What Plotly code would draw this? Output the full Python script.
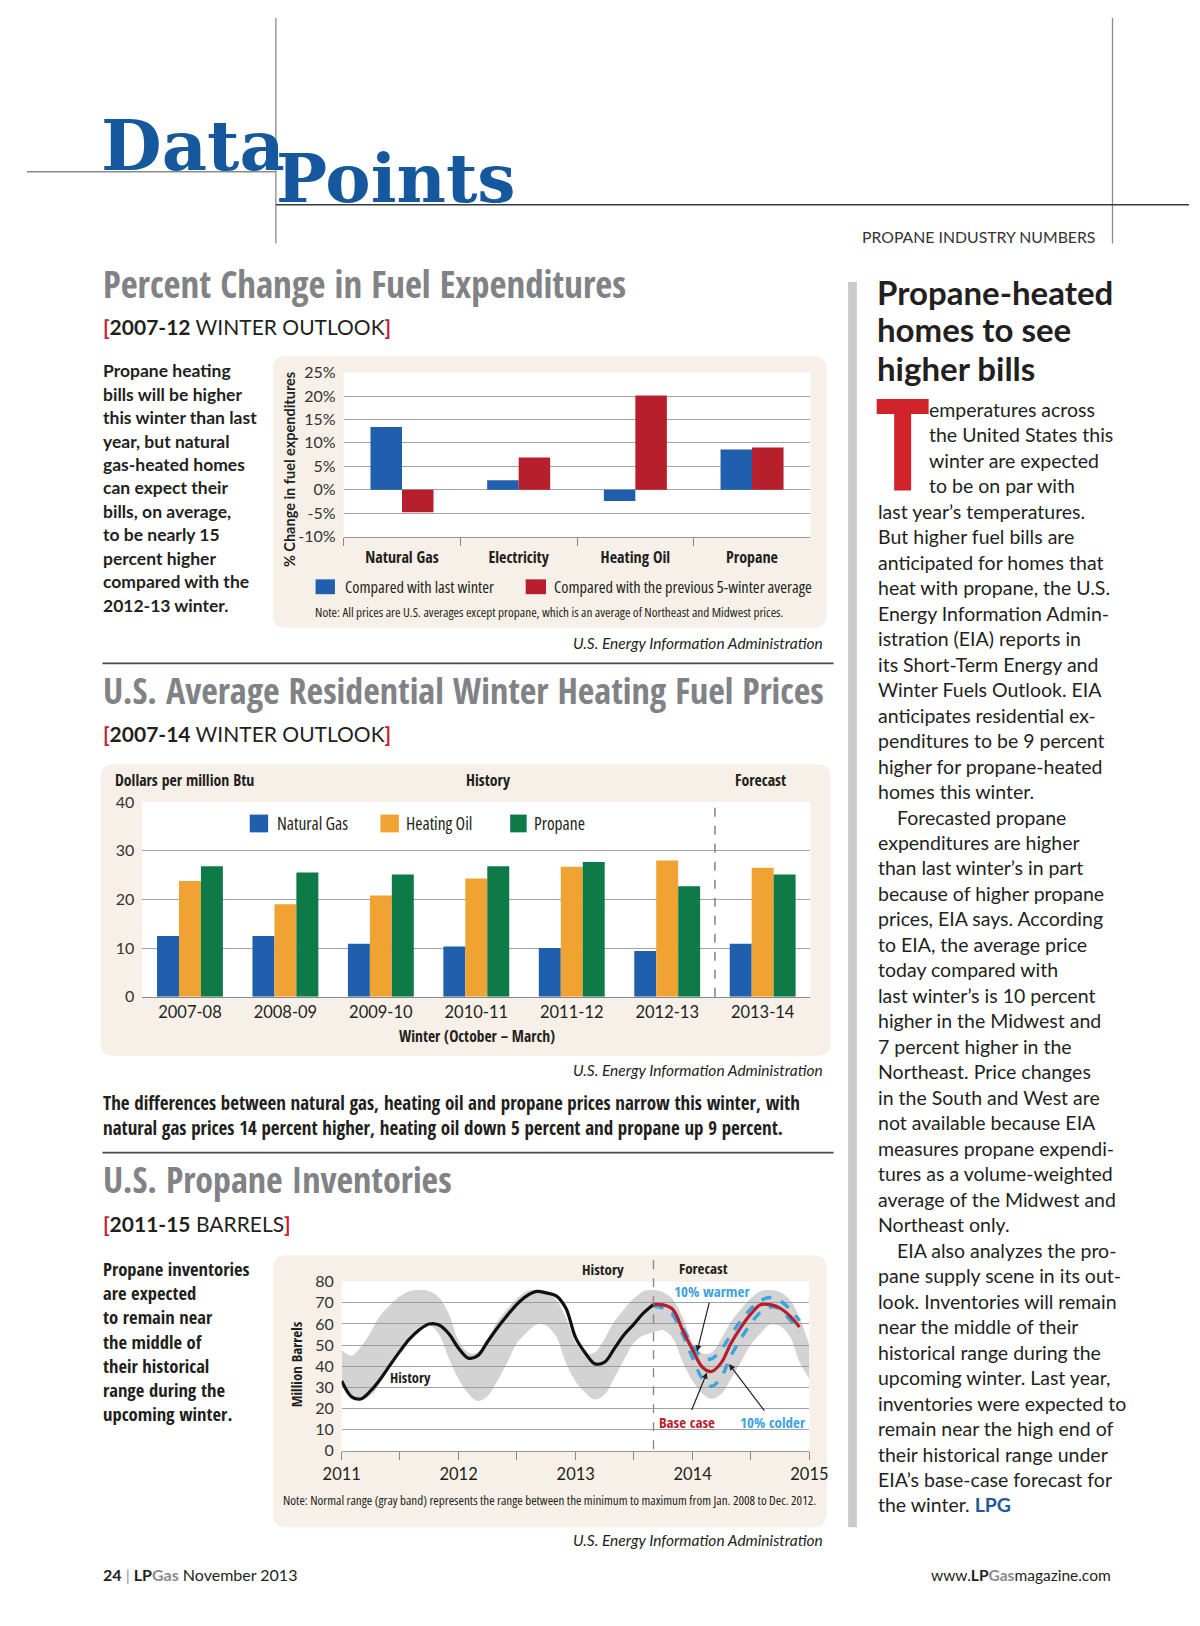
import plotly.graph_objects as go

W, H = 1200, 1626

# ---------------- DATA ----------------
fuels = ["Natural Gas", "Electricity", "Heating Oil", "Propane"]
chg_last_winter = [13.4, 2.0, -2.4, 8.6]
chg_5yr_avg = [-4.8, 6.9, 20.1, 9.0]
pct_ticks = [-10, -5, 0, 5, 10, 15, 20, 25]
pct_labels = ["-10%", "-5%", "0%", "5%", "10%", "15%", "20%", "25%"]

winters = ["2007-08", "2008-09", "2009-10", "2010-11", "2011-12", "2012-13", "2013-14"]
price_natgas = [12.5, 12.5, 10.9, 10.3, 10.0, 9.4, 10.9]
price_heatoil = [23.8, 19.0, 20.8, 24.3, 26.7, 28.0, 26.5]
price_propane = [26.8, 25.5, 25.1, 26.8, 27.7, 22.7, 25.1]

hist_months = [f"{y}-{m:02d}-01" for y in (2011, 2012, 2013) for m in range(1, 13)][:33]
hist_values = [33.0, 25.5, 24.5, 28.3, 33.8, 40.5, 46.9, 52.9, 57.3, 60.0, 59.5, 55.5,
               48.5, 43.8, 45.0, 51.7, 58.1, 64.0, 69.3, 73.3, 75.4, 74.7, 73.3, 67.5,
               53.4, 46.0, 41.2, 41.9, 48.2, 54.9, 59.8, 65.2, 69.2]
fc_months = ["2013-09-01", "2013-10-01", "2013-11-01", "2013-12-01"] + \
            [f"2014-{m:02d}-01" for m in range(1, 13)]
fc_base = [69.2, 69.0, 66.8, 57.0, 47.8, 39.5, 37.5, 41.7, 50.9, 58.4, 64.5, 69.1, 69.1, 67.5, 63.8, 58.5]
fc_warmer = [69.2, 68.5, 65.5, 58.0, 50.0, 44.0, 43.5, 48.0, 55.0, 61.5, 67.0, 71.0, 72.5, 71.0, 67.0, 61.5]
fc_colder = [68.5, 67.5, 64.0, 55.0, 44.0, 34.0, 30.5, 35.0, 45.0, 53.0, 60.0, 65.5, 68.0, 67.0, 62.0, 56.5]
band_months = [f"{y}-{m:02d}-01" for y in (2011, 2012, 2013, 2014) for m in range(1, 13)] + ["2015-01-01"]
band_upper = [47.5, 45.0, 49.0, 56.0, 64.0, 69.0, 73.0, 75.5, 76.0, 75.5, 72.5, 65.0,
              52.0, 46.5, 46.5, 53.0, 61.0, 67.0, 72.0, 75.5, 76.0, 75.0, 71.5, 63.0,
              51.0, 46.0, 46.5, 53.0, 61.0, 67.0, 72.0, 75.5, 76.0, 75.0, 71.5, 63.0,
              51.0, 46.0, 46.5, 53.0, 61.0, 67.0, 72.0, 75.5, 76.0, 75.0, 71.5, 63.0, 50.0]
band_lower = [33.0, 26.5, 24.0, 26.0, 32.0, 40.0, 48.0, 54.0, 58.5, 59.5, 55.0, 44.0,
              34.0, 27.0, 23.5, 26.0, 33.0, 41.7, 50.9, 56.0, 59.7, 59.2, 54.0, 41.7,
              32.6, 27.3, 24.3, 26.6, 34.2, 43.0, 51.0, 54.6, 56.0, 57.0, 53.0, 42.0,
              33.0, 27.0, 24.6, 27.0, 34.0, 42.0, 50.0, 55.5, 59.7, 59.0, 54.0, 42.0, 34.0]
year_ticks = ["2011-01-01", "2011-07-01", "2012-01-01", "2012-07-01", "2013-01-01",
              "2013-07-01", "2014-01-01", "2014-07-01", "2015-01-01"]
year_labels = ["2011", "", "2012", "", "2013", "", "2014", "", "2015"]

body_lines = [
    "emperatures across", "the United States this", "winter are expected", "to be on par with",
    "last year’s temperatures.", "But higher fuel bills are", "anticipated for homes that",
    "heat with propane, the U.S.", "Energy Information Admin-", "istration (EIA) reports in",
    "its Short-Term Energy and", "Winter Fuels Outlook. EIA", "anticipates residential ex-",
    "penditures to be 9 percent", "higher for propane-heated", "homes this winter.",
    "Forecasted propane", "expenditures are higher", "than last winter’s in part",
    "because of higher propane", "prices, EIA says. According", "to EIA, the average price",
    "today compared with", "last winter’s is 10 percent", "higher in the Midwest and",
    "7 percent higher in the", "Northeast. Price changes", "in the South and West are",
    "not available because EIA", "measures propane expendi-", "tures as a volume-weighted",
    "average of the Midwest and", "Northeast only.", "EIA also analyzes the pro-",
    "pane supply scene in its out-", "look. Inventories will remain", "near the middle of their",
    "historical range during the", "upcoming winter. Last year,", "inventories were expected to",
    "remain near the high end of", "their historical range under", "EIA’s base-case forecast for",
    "the winter. <span style='color:#1d5a9e'><b>LPG</b></span>",
]
caption1 = ["Propane heating", "bills will be higher", "this winter than last", "year, but natural",
            "gas-heated homes", "can expect their", "bills, on average,", "to be nearly 15",
            "percent higher", "compared with the", "2012-13 winter."]
caption2 = ["The differences between natural gas, heating oil and propane prices narrow this winter, with",
            "natural gas prices 14 percent higher, heating oil down 5 percent and propane up 9 percent."]
caption3 = ["Propane inventories", "are expected", "to remain near", "the middle of",
            "their historical", "range during the", "upcoming winter."]

# ---------------- STYLE ----------------
COND = "Open Sans Condensed, Liberation Sans, sans-serif"
OPEN = "Open Sans, Liberation Sans, sans-serif"
SANS = "Lato, Open Sans, sans-serif"
SERIF = "DejaVu Serif, serif"
BLUE = "#1f5fae"
RED = "#b71f2d"
ORANGE = "#f0a232"
GREEN = "#0e7a47"
LBLUE = "#3ea2dc"
GRAYT = "#808285"
BRED = "#c8202f"
INK = "#231f20"
GRID = "#a3a3a3"


def px(x):
    return x / W


def py(y):
    return 1 - y / H


annotations = []
shapes = []


def txt(x, y, text, size, family=SANS, color=INK, xanchor="left", yanchor="middle", angle=0):
    annotations.append(dict(x=px(x), y=py(y), xref="paper", yref="paper", text=text,
                            showarrow=False, xanchor=xanchor, yanchor=yanchor, textangle=angle,
                            align="left" if xanchor == "left" else "center",
                            font=dict(size=size, family=family, color=color)))


def cond(s):
    return f"<span style='font-stretch:condensed'>{s}</span>"


def line(x0, y0, x1, y1, color="#555", width=1.5, dash="solid"):
    shapes.append(dict(type="line", xref="paper", yref="paper", x0=px(x0), y0=py(y0),
                       x1=px(x1), y1=py(y1), line=dict(color=color, width=width, dash=dash)))


def rect(x0, y0, x1, y1, color, layer="below"):
    shapes.append(dict(type="rect", xref="paper", yref="paper", x0=px(x0), y0=py(y0),
                       x1=px(x1), y1=py(y1), fillcolor=color, line=dict(width=0), layer=layer))


def rrect(x0, y0, x1, y1, r, color):
    rx, ry = r / W, r / H
    X0, X1, Y0, Y1 = px(x0), px(x1), py(y0), py(y1)
    p = (f"M{X0+rx},{Y0} L{X1-rx},{Y0} Q{X1},{Y0} {X1},{Y0-ry} L{X1},{Y1+ry} "
         f"Q{X1},{Y1} {X1-rx},{Y1} L{X0+rx},{Y1} Q{X0},{Y1} {X0},{Y1+ry} "
         f"L{X0},{Y0-ry} Q{X0},{Y0} {X0+rx},{Y0} Z")
    shapes.append(dict(type="path", xref="paper", yref="paper", path=p, fillcolor=color,
                       line=dict(width=0), layer="below"))


def bracket(bold, rest):
    return (f"<span style='color:{BRED}'><b>[</b></span><b>{bold}</b> {rest}"
            f"<span style='color:{BRED}'><b>]</b></span>")


fig = go.Figure()

fig.add_trace(go.Bar(x=fuels, y=chg_last_winter, name="Compared with last winter",
                     marker=dict(color=BLUE, line=dict(width=0)), width=0.27, offset=-0.27,
                     xaxis="x", yaxis="y"))
fig.add_trace(go.Bar(x=fuels, y=chg_5yr_avg, name="Compared with the previous 5-winter average",
                     marker=dict(color=RED, line=dict(width=0)), width=0.27, offset=0.0,
                     xaxis="x", yaxis="y"))

for vals, col, nm, off in [(price_natgas, BLUE, "Natural Gas", -0.345),
                           (price_heatoil, ORANGE, "Heating Oil", -0.115),
                           (price_propane, GREEN, "Propane", 0.115)]:
    fig.add_trace(go.Bar(x=winters, y=vals, name=nm, marker=dict(color=col, line=dict(width=0)),
                         width=0.23, offset=off, xaxis="x2", yaxis="y2"))

fig.add_trace(go.Scatter(x=band_months, y=band_lower, mode="lines", line=dict(width=0, shape="spline"),
                         hoverinfo="skip", xaxis="x3", yaxis="y3", name="Normal range low"))
fig.add_trace(go.Scatter(x=band_months, y=band_upper, mode="lines", line=dict(width=0, shape="spline"),
                         fill="tonexty", fillcolor="rgba(150,150,150,0.42)",
                         xaxis="x3", yaxis="y3", name="Normal range"))
fig.add_trace(go.Scatter(x=fc_months, y=fc_colder, mode="lines", name="10% colder",
                         line=dict(color=LBLUE, width=3.4, dash="dash", shape="spline"),
                         xaxis="x3", yaxis="y3"))
fig.add_trace(go.Scatter(x=fc_months, y=fc_warmer, mode="lines", name="10% warmer",
                         line=dict(color=LBLUE, width=3.4, dash="dash", shape="spline"),
                         xaxis="x3", yaxis="y3"))
fig.add_trace(go.Scatter(x=fc_months, y=fc_base, mode="lines", name="Base case",
                         line=dict(color=RED, width=3.2, shape="spline"), xaxis="x3", yaxis="y3"))
fig.add_trace(go.Scatter(x=hist_months, y=hist_values, mode="lines", name="History",
                         line=dict(color="#111111", width=3.2, shape="spline"), xaxis="x3", yaxis="y3"))

# ---------------- DECOR ----------------
line(257, 0, 257, 228, "#8a8a8a", 1.3)
line(1121, 0, 1121, 228, "#8a8a8a", 1.3)
line(0, 155.5, 257, 155.5, "#8a8a8a", 1.5)
line(257, 189, 1200, 189, "#3a3a3a", 1.6)
rect(848, 267, 857, 1527, "#cacaca")
line(78, 653, 833, 653, "#4a4a4a", 1.6)
line(78, 1148, 833, 1148, "#4a4a4a", 1.6)
PANEL = "#f6f0e8"
rrect(254, 342, 826, 617, 14, PANEL)
rrect(76, 755, 830, 1050, 14, PANEL)
rrect(254, 1252, 826, 1527, 14, PANEL)
for xr, yr in [("x", "y"), ("x2", "y2"), ("x3", "y3")]:
    shapes.append(dict(type="rect", xref=f"{xr} domain", yref=f"{yr} domain", x0=0, x1=1, y0=0, y1=1,
                       fillcolor="white", line=dict(width=0), layer="below"))
shapes.append(dict(type="line", xref="x2", yref="y2 domain", x0=5.5, x1=5.5, y0=0, y1=1,
                   line=dict(color="#8a8a8a", width=1.6, dash="dash")))
shapes.append(dict(type="line", xref="x3", yref="paper", x0="2013-09-01", x1="2013-09-01",
                   y0=py(1257), y1=py(1457), line=dict(color="#8a8a8a", width=1.4, dash="dash")))

rect(298, 568, 318, 583, BLUE, "above")
rect(515, 568, 536, 583, RED, "above")
rect(230, 806, 249, 824, BLUE, "above")
rect(365, 806, 384, 824, ORANGE, "above")
rect(499, 806, 516, 824, GREEN, "above")

# ---------------- TEXT ----------------
txt(74, 129, "<b>Data</b>", 70, SERIF, "#15589e")
txt(255, 162, "<b>Points</b>", 68, SERIF, "#15589e")
txt(1105, 221, "PROPANE INDUSTRY NUMBERS", 15.8, SANS, "#333333", xanchor="right")

txt(876, 277, "<b>Propane-heated</b>", 33, SANS, INK)
txt(876, 315, "<b>homes to see</b>", 33, SANS, INK)
txt(876, 354, "<b>higher bills</b>", 33, SANS, INK)
txt(874, 429, "<b>T</b>", 128, COND, "#d1232a")
for i, t in enumerate(body_lines):
    yy = 396 + i * 25.78
    if i < 4:
        xx = 929
    elif i in (16, 33):
        xx = 896
    else:
        xx = 877
    txt(xx, yy, t, 19.5, SANS, INK)

txt(76, 269, "<b>Percent Change in Fuel Expenditures</b>", 36.8, COND, GRAYT)
txt(76, 312, bracket("2007-12", "WINTER OUTLOOK"), 21, SANS, INK)
for i, t in enumerate(caption1):
    txt(76, 357 + i * 23.7, f"<b>{t}</b>", 17.5, SANS, INK)
txt(271, 457, "<b>% Change in fuel expenditures</b>", 14.5, SANS, INK, xanchor="center", angle=-90)
txt(326, 575.5, cond("Compared with last winter"), 16.4, OPEN, INK)
txt(542, 575.5, cond("Compared with the previous 5-winter average"), 16.4, OPEN, INK)
txt(540, 601, cond("Note: All prices are U.S. averages except propane, which is an average of Northeast and Midwest prices."),
    13.2, OPEN, INK, xanchor="center")
txt(824, 632.5, "<i>U.S. Energy Information Administration</i>", 15.5, SANS, INK, xanchor="right")

txt(76, 680, "<b>U.S. Average Residential Winter Heating Fuel Prices</b>", 36, COND, GRAYT)
txt(76, 724, bracket("2007-14", "WINTER OUTLOOK"), 21, SANS, INK)
txt(89, 771.5, "<b>Dollars per million Btu</b>", 15.8, COND, INK)
txt(477, 771.5, "<b>History</b>", 15.8, COND, INK, xanchor="center")
txt(757, 771.5, "<b>Forecast</b>", 15.8, COND, INK, xanchor="center")
txt(256, 815, cond("Natural Gas"), 17.5, OPEN, INK)
txt(389, 815, cond("Heating Oil"), 17.5, OPEN, INK)
txt(522, 815, cond("Propane"), 17.5, OPEN, INK)
txt(465, 1030, "<b>Winter (October – March)</b>", 15.5, COND, INK, xanchor="center")
txt(824, 1064, "<i>U.S. Energy Information Administration</i>", 15.5, SANS, INK, xanchor="right")
txt(76, 1110, "<b>" + "<br>".join(caption2) + "</b>", 19, COND, INK)

txt(76, 1175, "<b>U.S. Propane Inventories</b>", 36, COND, GRAYT)
txt(76, 1219.5, bracket("2011-15", "BARRELS"), 21, SANS, INK)
txt(76, 1339, "<b>" + "<br>".join(caption3) + "</b>", 18.6, COND, INK)
txt(278, 1362, "<b>Million Barrels</b>", 15, COND, INK, xanchor="center", angle=-90)
txt(619, 1266, "<b>History</b>", 15, COND, INK, xanchor="right")
txt(671, 1265, "<b>Forecast</b>", 15, COND, INK)
txt(396, 1376, "<b>History</b>", 14.5, COND, INK, xanchor="center")
txt(540, 1499.5, cond("Note: Normal range (gray band) represents the range between the minimum to maximum from Jan. 2008 to Dec. 2012."),
    13.1, OPEN, INK, xanchor="center")
txt(824, 1540, "<i>U.S. Energy Information Administration</i>", 15.5, SANS, INK, xanchor="right")

for text, hx, hy, ax, ay, col in [("10% warmer", "2014-01-15", 47.0, 15, -60, LBLUE),
                                  ("Base case", "2014-02-15", 37.0, -20, 49, RED),
                                  ("10% colder", "2014-04-25", 41.0, 44, 58, LBLUE)]:
    annotations.append(dict(x=hx, y=hy, xref="x3", yref="y3", ax=ax, ay=ay, text=f"<b>{text}</b>",
                            showarrow=True, arrowhead=2, arrowsize=1, arrowwidth=1.2, arrowcolor="#222",
                            font=dict(size=15, family=COND, color=col)))

txt(76, 1575, "<b>24</b> <span style='color:#999'>|</span> <b>LP</b><span style='color:#8a8a8a'><b>Gas</b></span> November 2013",
    16, SANS, INK)
txt(1122, 1575, "www.<b>LP</b><span style='color:#8a8a8a'><b>Gas</b></span>magazine.com", 15.5, SANS, INK, xanchor="right")

# ---------------- LAYOUT ----------------
tickf = dict(family=SANS, size=16, color="#333333")
fig.update_layout(
    width=W, height=H, autosize=False, margin=dict(l=0, r=0, t=0, b=0),
    paper_bgcolor="white", plot_bgcolor="rgba(0,0,0,0)", showlegend=False, barmode="overlay",
    xaxis=dict(domain=[px(327), px(809)], anchor="y", type="category",
               tickfont=dict(family=COND, size=16, color=INK, weight="bold"), ticks="outside",
               tickson="boundaries", ticklen=8, tickcolor="#888", showline=True, linecolor="#999",
               linewidth=1.3, showgrid=False, fixedrange=True, ticklabelstandoff=6),
    yaxis=dict(domain=[py(524.7), py(358.8)], anchor="x", range=[-10, 25], tickvals=pct_ticks,
               ticktext=pct_labels, tickfont=tickf, showgrid=True, gridcolor=GRID, gridwidth=1.3,
               zeroline=False, showline=False, ticks="", fixedrange=True, ticklabelstandoff=7),
    xaxis2=dict(domain=[px(119), px(809)], anchor="y2", type="category", tickfont=dict(family=SANS, size=16.5, color=INK),
                ticks="", showline=True, linecolor="#888", linewidth=1.3, showgrid=False, fixedrange=True),
    yaxis2=dict(domain=[py(990.3), py(793.3)], anchor="x2", range=[0, 40], dtick=10, tickfont=tickf,
                showgrid=True, gridcolor=GRID, gridwidth=1.3, zeroline=False, ticks="", fixedrange=True,
                ticklabelstandoff=7),
    xaxis3=dict(domain=[px(325), px(808)], anchor="y3", type="date", range=["2011-01-01", "2015-01-01"],
                tickvals=year_ticks, ticktext=year_labels, tickfont=dict(family=SANS, size=16.5, color=INK),
                ticks="outside", ticklen=8, tickcolor="#888", showline=True, linecolor="#999", linewidth=1.3,
                showgrid=False, fixedrange=True),
    yaxis3=dict(domain=[py(1449.7), py(1278.6)], anchor="x3", range=[0, 80], dtick=10, tickfont=tickf,
                showgrid=True, gridcolor=GRID, gridwidth=1.3, zeroline=False, ticks="", fixedrange=True,
                ticklabelstandoff=7),
    annotations=annotations, shapes=shapes,
)

fig.write_html("out.html", config={"displayModeBar": False})
